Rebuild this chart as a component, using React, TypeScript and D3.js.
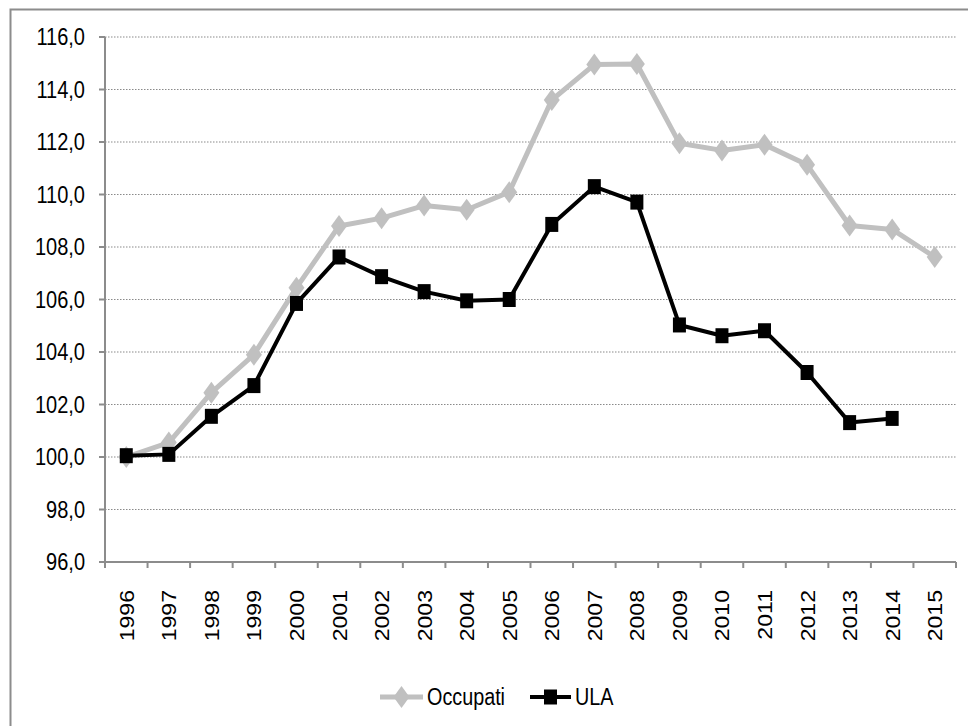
import React from 'react';
import * as d3 from 'd3';

const years = ['1996', '1997', '1998', '1999', '2000', '2001', '2002', '2003', '2004', '2005',
	'2006', '2007', '2008', '2009', '2010', '2011', '2012', '2013', '2014', '2015'];
const occupati = [100.0, 100.55, 102.45, 103.9, 106.45, 108.8, 109.1, 109.58, 109.42, 110.09,
	113.6, 114.95, 114.97, 111.95, 111.68, 111.9, 111.13, 108.82, 108.67, 107.62];
const ula: (number | null)[] = [100.05, 100.1, 101.55, 102.72, 105.85, 107.62, 106.87, 106.3, 105.95, 106.0,
	108.86, 110.3, 109.71, 105.03, 104.62, 104.81, 103.22, 101.31, 101.47, null];
const yTicks = [96, 98, 100, 102, 104, 106, 108, 110, 112, 114, 116];

const W = 968;
const H = 726;
const left = 105;
const right = 956;
const top = 37;
const bottom = 562;
const font = '"Liberation Sans", Arial, sans-serif';
const axisColor = '#8c8c8c';

const fmt = (v: number) => v.toFixed(1).replace('.', ',');

const App = () => {
	const x = d3.scaleBand<string>().domain(years).range([left, right]).padding(0);
	const y = d3.scaleLinear().domain([96, 116]).range([bottom, top]);
	const cx = (yr: string) => (x(yr) as number) + x.bandwidth() / 2;

	const line = d3.line<number | null>()
		.defined((d) => d !== null)
		.x((_, i) => cx(years[i]))
		.y((d) => y(d as number));

	const diamond = 'M0,-11L8,0L0,11L-8,0Z';
	const square = 'M-6.5,-7.5H6.5V7.5H-6.5Z';

	const boundaries = years.map((yr) => x(yr) as number).concat([right]);

	return (
		<svg width={ W } height={ H } style={ { position: 'absolute', left: 0, top: 0 } }>
			<rect x={ 0 } y={ 0 } width={ W } height={ H } fill="#fff" />
			<rect x={ 10.5 } y={ 9.5 } width={ W + 20 } height={ H + 20 } fill="none" stroke={ axisColor } strokeWidth={ 2 } />

			{ yTicks.filter((t) => t !== 96).map((t) => (
				<line key={ `g${ t }` } x1={ left } x2={ right } y1={ y(t) } y2={ y(t) }
					stroke="#8a8a8a" strokeWidth={ 1.2 } strokeDasharray="1.5,1.5" />
			)) }

			<line x1={ left } x2={ left } y1={ top } y2={ bottom } stroke={ axisColor } strokeWidth={ 2 } />
			<line x1={ left } x2={ right } y1={ bottom } y2={ bottom } stroke={ axisColor } strokeWidth={ 2 } />
			{ yTicks.map((t) => (
				<line key={ `yt${ t }` } x1={ left - 6 } x2={ left } y1={ y(t) } y2={ y(t) } stroke={ axisColor } strokeWidth={ 2 } />
			)) }
			{ boundaries.map((b, i) => (
				<line key={ `xt${ i }` } x1={ b } x2={ b } y1={ bottom } y2={ bottom + 6 } stroke={ axisColor } strokeWidth={ 2 } />
			)) }

			{ yTicks.map((t) => (
				<text key={ `yl${ t }` } transform={ `translate(85,${ y(t) + 8 }) scale(0.87,1)` }
					textAnchor="end" fontFamily={ font } fontSize={ 23 } fill="#000">{ fmt(t) }</text>
			)) }
			{ years.map((yr) => (
				<text key={ `xl${ yr }` } transform={ `translate(${ cx(yr) + 7.5 },590) rotate(-90) scale(1.1,1)` }
					textAnchor="end" fontFamily={ font } fontSize={ 21 } fill="#000">{ yr }</text>
			)) }

			<path d={ line(occupati) as string } fill="none" stroke="#c0c0c0" strokeWidth={ 5 } strokeLinejoin="round" />
			{ occupati.map((v, i) => (
				<path key={ `o${ i }` } d={ diamond } transform={ `translate(${ cx(years[i]) },${ y(v) })` } fill="#c0c0c0" />
			)) }

			<path d={ line(ula) as string } fill="none" stroke="#000" strokeWidth={ 4 } strokeLinejoin="round" />
			{ ula.map((v, i) => (v === null ? null : (
				<path key={ `u${ i }` } d={ square } transform={ `translate(${ cx(years[i]) },${ y(v) })` } fill="#000" />
			))) }

			<g>
				<line x1={ 380 } x2={ 423 } y1={ 697 } y2={ 697 } stroke="#c0c0c0" strokeWidth={ 5 } />
				<path d={ diamond } transform="translate(401.5,697)" fill="#c0c0c0" />
				<text transform="translate(427,705) scale(0.86,1)" fontFamily={ font } fontSize={ 23 } fill="#000">Occupati</text>
				<line x1={ 530 } x2={ 571 } y1={ 697 } y2={ 697 } stroke="#000" strokeWidth={ 4 } />
				<path d={ square } transform="translate(550.5,697)" fill="#000" />
				<text transform="translate(575,705) scale(0.86,1)" fontFamily={ font } fontSize={ 23 } fill="#000">ULA</text>
			</g>
		</svg>
	);
};

export default App;
